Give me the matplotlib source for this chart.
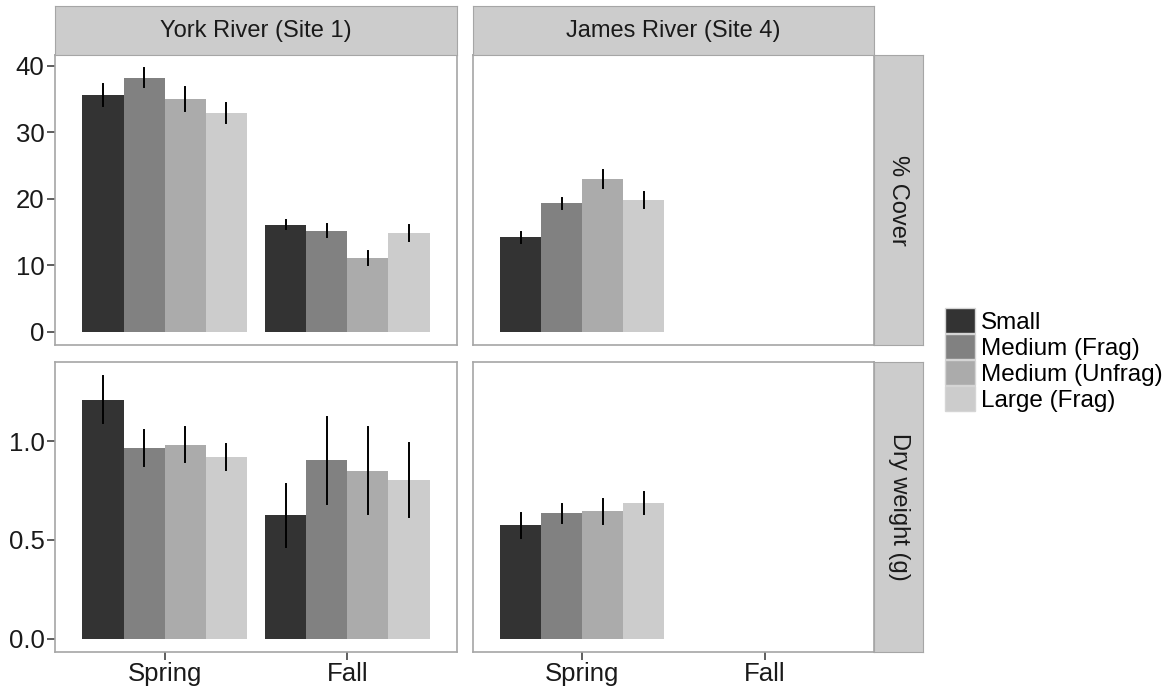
import numpy as np
import matplotlib.pyplot as plt
from matplotlib.patches import Patch

plt.rcParams['font.family'] = ['Liberation Sans', 'DejaVu Sans']

seasons = ['Spring', 'Fall']
sizes = ['Small', 'Medium (Frag)', 'Medium (Unfrag)', 'Large (Frag)']
colors = ['#333333', '#818181', '#ABABAB', '#CCCCCC']
sites = ['York River (Site 1)', 'James River (Site 4)']
rows = ['% Cover', 'Dry weight (g)']

# rows of each array = season (Spring, Fall), columns = size class
york_cover = [[35.6, 38.2, 35.0, 32.9], [16.1, 15.2, 11.1, 14.9]]
york_cover_se = [[1.6, 1.45, 1.8, 1.55], [0.65, 1.0, 1.0, 1.2]]
james_cover = [[14.2, 19.3, 23.0, 19.8]]
james_cover_se = [[0.77, 0.9, 1.3, 1.2]]
york_dw = [[1.21, 0.966, 0.982, 0.921], [0.625, 0.904, 0.849, 0.803]]
york_dw_se = [[0.12, 0.09, 0.087, 0.066], [0.16, 0.22, 0.22, 0.185]]
james_dw = [[0.573, 0.634, 0.644, 0.687]]
james_dw_se = [[0.065, 0.05, 0.062, 0.055]]

W, H = 1170, 694
fig = plt.figure(figsize=(W / 100, H / 100), dpi=100)

def box(x0, y0, x1, y1):
    return [x0 / W, 1 - y1 / H, (x1 - x0) / W, (y1 - y0) / H]

edge = '#A6A6A6'
strip_fill = '#CCCCCC'
cols_x = [(55, 457), (473, 874)]
rows_y = [(55, 345), (362, 652)]
ylims = [(-1.98, 41.63), (-0.067, 1.40)]
yticks = [[0, 10, 20, 30, 40], [0.0, 0.5, 1.0]]
yfmt = ['{:.0f}', '{:.1f}']
data = [[(york_cover, york_cover_se), (james_cover, james_cover_se)],
        [(york_dw, york_dw_se), (james_dw, james_dw_se)]]

bw = 0.225
for r in range(2):
    for c in range(2):
        x0, x1 = cols_x[c]
        y0, y1 = rows_y[r]
        ax = fig.add_axes(box(x0, y0, x1, y1))
        vals, errs = data[r][c]
        for si in range(len(vals)):
            for j in range(4):
                xp = si + 1 + (j - 1.5) * bw
                ax.bar(xp, vals[si][j], width=bw, color=colors[j], linewidth=0, zorder=2)
                ax.plot([xp, xp], [vals[si][j] - errs[si][j], vals[si][j] + errs[si][j]],
                        color='black', lw=1.4, zorder=3)
        ax.set_xlim(0.4, 2.6)
        ax.set_ylim(*ylims[r])
        for s in ax.spines.values():
            s.set_color(edge)
            s.set_linewidth(1.2)
        ax.tick_params(colors='#333333', length=5.5, width=1.1, labelsize=18.5,
                       labelcolor='#1a1a1a', pad=2)
        ax.set_xticks([1, 2])
        if r == 1:
            ax.set_xticklabels(seasons)
        else:
            ax.tick_params(axis='x', length=0, labelbottom=False)
        ax.set_yticks(yticks[r])
        if c == 0:
            ax.set_yticklabels([yfmt[r].format(v) for v in yticks[r]])
        else:
            ax.tick_params(axis='y', length=0, labelleft=False)

        if r == 0:
            sa = fig.add_axes(box(x0, 6, x1, 55))
            sa.set_facecolor(strip_fill)
            sa.set_xticks([])
            sa.set_yticks([])
            for s in sa.spines.values():
                s.set_color(edge)
            sa.text(0.5, 0.5, sites[c], ha='center', va='center', fontsize=17,
                    color='#1a1a1a', transform=sa.transAxes)
        if c == 1:
            sa = fig.add_axes(box(874, y0, 923, y1))
            sa.set_facecolor(strip_fill)
            sa.set_xticks([])
            sa.set_yticks([])
            for s in sa.spines.values():
                s.set_color(edge)
            sa.text(0.5, 0.5, rows[r], ha='center', va='center', fontsize=17,
                    rotation=-90, color='#1a1a1a', transform=sa.transAxes)

fs = 17.5
fpx = fs * 100 / 72
handles = [Patch(facecolor=colors[j], edgecolor='#D5D5D5', linewidth=1.0, label=sizes[j])
           for j in range(4)]
fig.legend(handles=handles, loc='upper left', bbox_to_anchor=(945 / W, 1 - 308 / H),
           frameon=False, fontsize=fs, handlelength=30 / fpx, handleheight=30 / fpx,
           labelspacing=0.0, handletextpad=6 / fpx, borderpad=0, borderaxespad=0)

fig.savefig('out.png', dpi=100)
